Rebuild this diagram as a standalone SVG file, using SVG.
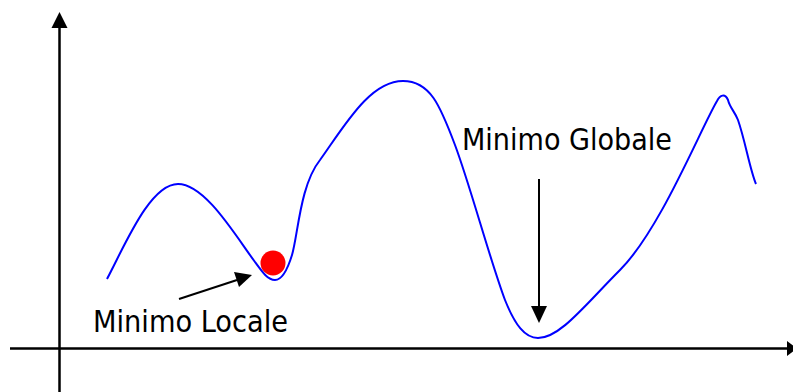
<svg xmlns="http://www.w3.org/2000/svg" width="793" height="392" viewBox="0 0 793 392">
<style>
.axis{stroke:#000;stroke-width:2.5;fill:none}
.ptr{stroke:#000;stroke-width:2;fill:none}
.curve{stroke:#0000ff;stroke-width:2;fill:none}
.lbl{font-family:"DejaVu Sans Condensed","DejaVu Sans",Verdana,sans-serif;font-size:30px;fill:#000}
</style>
<g id="connectors">
<line class="axis" x1="59.5" y1="392" x2="59.5" y2="28"/>
<path d="M59.5,12 L51.5,28 L67.5,28 Z" fill="#000"/>
<line class="axis" x1="10" y1="348.5" x2="788" y2="348.5"/>
<path d="M797,348.5 L787,341 L787,356 Z" fill="#000"/>
<line class="ptr" x1="179" y1="299" x2="237" y2="280"/>
<path d="M252,275 L234,272 L239,287 Z" fill="#000"/>
<line class="ptr" x1="539" y1="179" x2="539" y2="308"/>
<path d="M539,323 L531,306 L547,306 Z" fill="#000"/>
</g>
<g id="curve">
<path class="curve" d="M107,279 C125,245 150,184 178,184 C205,184 235,235 255,262 C263,273 268,280 275,280 C283,280 288,268 292,255 C298,235 300,185 320,160 C345,125 370,81 403,81 C430,81 440,105 455,145 C470,185 490,260 505,300 C515,325 525,338 538,338 C560,338 585,305 620,270 C660,230 700,130 717,101 C720,95 725,93 728,100 C730,108 735,112 738,120 C745,140 750,170 756,184"/>
</g>
<g id="ball"><circle cx="273" cy="263" r="12.5" fill="#ff0000"/></g>
<g id="minimo-locale"><text class="lbl" x="93" y="332" textLength="195" lengthAdjust="spacingAndGlyphs">Minimo Locale</text></g>
<g id="minimo-globale"><text class="lbl" x="462" y="150" textLength="210" lengthAdjust="spacingAndGlyphs">Minimo Globale</text></g>
</svg>
